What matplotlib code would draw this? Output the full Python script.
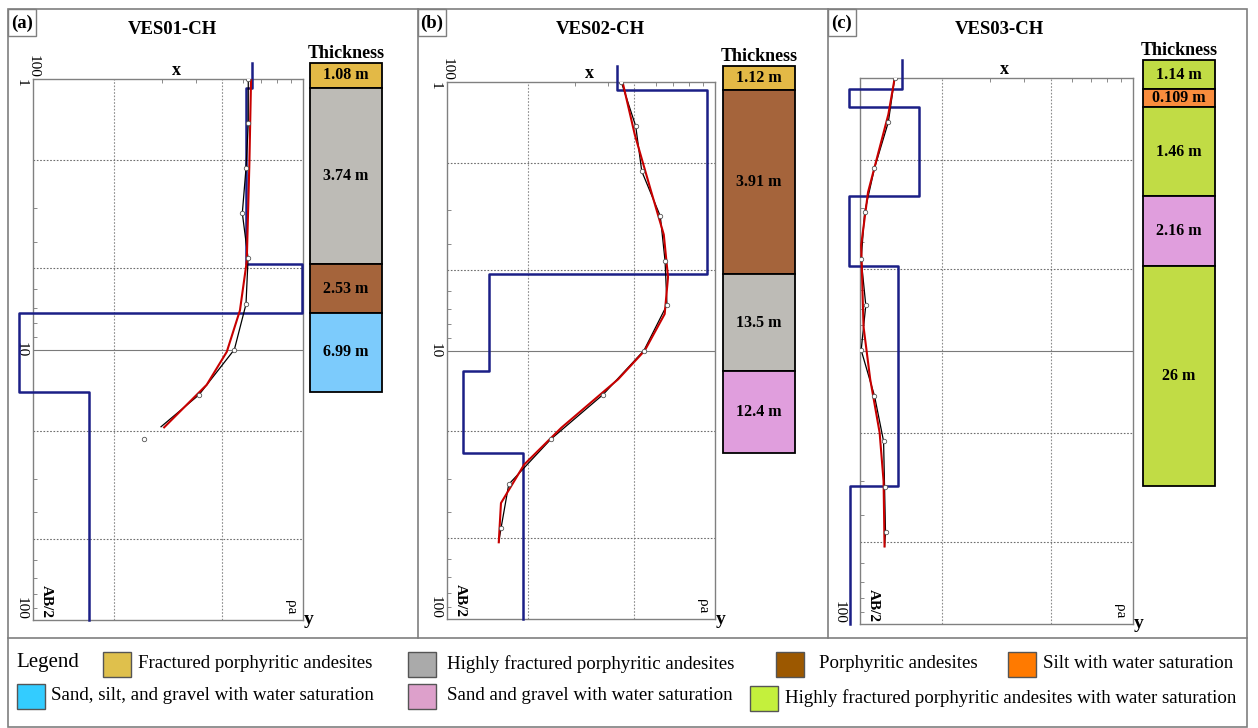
import numpy as np
import matplotlib.pyplot as plt
from matplotlib.patches import Rectangle
from matplotlib.ticker import NullFormatter
import matplotlib.transforms as mtrans

plt.rcParams['font.family'] = ['Liberation Serif', 'DejaVu Serif']

W, H = 1258, 728

# ---------------- data ----------------
titles = ['VES01-CH', 'VES02-CH', 'VES03-CH']
tags = ['(a)', '(b)', '(c)']

# field points (AB/2 in m, apparent resistivity in ohm.m)
pts_ab2_a = [1.0, 1.46, 2.14, 3.13, 4.6, 6.8, 10.0, 14.7, 21.5]
pts_rho_a = [627, 627, 615, 596, 626, 615, 557, 412, 257]
pts_ab2_b = [1.0, 1.46, 2.15, 3.16, 4.63, 6.76, 10.0, 14.6, 21.4, 31.5, 46]
pts_rho_b = [447, 506, 533, 625, 651, 662, 543, 382, 244, 170, 159]
pts_ab2_c = [1.0, 1.45, 2.14, 3.1, 4.61, 6.8, 9.93, 14.6, 21.4, 31.4, 46.2]
pts_rho_c = [134, 127, 113, 104, 101, 105, 101, 113, 122, 123, 124]

# observed curve (black)
obs_ab2_a = [1.0, 1.46, 2.14, 3.13, 4.6, 6.8, 10.0, 14.7, 19.3]
obs_rho_a = [627, 627, 615, 596, 626, 615, 557, 412, 298]
obs_ab2_b = [1.0, 1.46, 2.15, 3.16, 4.63, 6.76, 10.0, 14.6, 21.4, 31.5, 46, 51.7]
obs_rho_b = [447, 506, 533, 625, 651, 662, 543, 382, 244, 170, 159, 156]
obs_ab2_c = [1.0, 1.45, 2.14, 3.1, 4.61, 6.8, 9.93, 14.6, 21.4, 31.4, 46.2, 52]
obs_rho_c = [134, 127, 113, 104, 101, 105, 101, 113, 122, 123, 124, 123]

# calculated curve (red)
calc_ab2_a = [1.01, 2.05, 4.72, 7.17, 10.2, 13.5, 19.4]
calc_rho_a = [642, 633, 619, 584, 522, 440, 306]
calc_ab2_b = [1.01, 1.57, 2.56, 3.70, 5.33, 7.31, 10.0, 12.8, 19.4, 26.6, 37, 51.8]
calc_rho_b = [453, 502, 578, 644, 668, 649, 547, 435, 267, 194, 159, 156]
calc_ab2_c = [1.0, 1.36, 2.62, 4.09, 8.13, 12.7, 19.9, 30, 52]
calc_rho_c = [134, 127, 107, 101, 103, 109, 118, 122, 123]

# layered model (blue): layer boundaries (m) and layer resistivity
model_depth_a = [0.87, 1.08, 4.82, 7.35, 14.3, 100]
model_rho_a = [647, 615, 991, 89, 161]
model_depth_b = [0.87, 1.07, 5.17, 11.97, 24.1, 100]
model_rho_b = [430, 934, 144, 115, 192]
model_depth_c = [0.86, 1.10, 1.28, 2.71, 4.89, 31.1, 100]
model_rho_c = [143, 91, 165, 91, 138, 92]

# thickness columns
thick_a = ['1.08 m', '3.74 m', '2.53 m', '6.99 m']
thick_b = ['1.12 m', '3.91 m', '13.5 m', '12.4 m']
thick_c = ['1.14 m', '0.109 m', '1.46 m', '2.16 m', '26 m']
layer_col_a = ['#e3b946', '#bdbbb6', '#a5643b', '#7ccbfc']
layer_col_b = ['#e3b946', '#a5643b', '#bdbbb6', '#e09edd']
layer_col_c = ['#c1dc45', '#f98c3d', '#c1dc45', '#e09edd', '#c1dc45']

depth_labels_a = ['1', '10', '100']
depth_labels_b = ['1', '10', '100']
depth_labels_c = ['100']

legend_labels = ['Fractured porphyritic andesites', 'Highly fractured porphyritic andesites',
                 'Porphyritic andesites', 'Silt with water saturation',
                 'Sand, silt, and gravel with water saturation',
                 'Sand and gravel with water saturation',
                 'Highly fractured porphyritic andesites with water saturation']
legend_colors = ['#dfc04c', '#aaaaaa', '#9c5800', '#ff7a00', '#33ccff', '#dda0cb', '#c4f03c']

grid_rho = [200, 500]
grid_ab2 = [2, 5, 20, 50]
minor_rho = [300, 400, 600, 700, 800, 900]
minor_ab2 = [3, 4, 6, 7, 8, 9, 30, 40, 60, 70, 80, 90]

# ---------------- layout (pixels) ----------------
boxes = [(33, 79, 303, 620), (447, 82, 715, 619), (860, 78, 1133, 624)]
cols_px = [(310, 382), (723, 795), (1143, 1215)]
title_x = [172, 600, 999]
tag_box = [(8, 418), (418, 828), (828, 1247)]
tick_pad = [3.5, 3.5, 10]

panels = [
    (pts_ab2_a, pts_rho_a, obs_ab2_a, obs_rho_a, calc_ab2_a, calc_rho_a,
     model_depth_a, model_rho_a, thick_a, layer_col_a, depth_labels_a, True),
    (pts_ab2_b, pts_rho_b, obs_ab2_b, obs_rho_b, calc_ab2_b, calc_rho_b,
     model_depth_b, model_rho_b, thick_b, layer_col_b, depth_labels_b, True),
    (pts_ab2_c, pts_rho_c, obs_ab2_c, obs_rho_c, calc_ab2_c, calc_rho_c,
     model_depth_c, model_rho_c, thick_c, layer_col_c, depth_labels_c, False),
]

fig = plt.figure(figsize=(W / 100, H / 100), dpi=100)

# background axes in pixel units for frames, titles and legend
bg = fig.add_axes([0, 0, 1, 1], zorder=-5)
bg.set_xlim(0, W)
bg.set_ylim(H, 0)
bg.axis('off')

frame_c = '#7f7f7f'
bg.add_patch(Rectangle((8, 9), 1239, 718, fill=False, ec=frame_c, lw=1.2))
bg.plot([8, 1247], [638, 638], color=frame_c, lw=1.2)
for x0, x1 in tag_box[1:]:
    bg.plot([x0, x0], [9, 638], color=frame_c, lw=1.2)
for k, (x0, x1) in enumerate(tag_box):
    bg.add_patch(Rectangle((x0, 9), 28, 27, fill=False, ec=frame_c, lw=1.0))
    bg.text(x0 + 14, 23, tags[k], ha='center', va='center', fontsize=13.5, fontweight='bold')
    bg.text(title_x[k], 29, titles[k], ha='center', va='center', fontsize=13.5, fontweight='bold')


def px_axes(l, t, r, b):
    return [l / W, 1 - b / H, (r - l) / W, (b - t) / H]


for k, p in enumerate(panels):
    (pa, pr, oa, orr, ca, cr, md, mr, thick, lcol, dlab, top100) = p
    l, t, r, b = boxes[k]
    ax = fig.add_axes(px_axes(l, t, r, b))
    ax.set_xscale('log')
    ax.set_yscale('log')
    ax.set_xlim(100, 1000)
    ax.set_ylim(100, 1)

    for v in grid_rho:
        ax.axvline(v, color='#8c8c8c', lw=0.8, ls=(0, (1.5, 1.5)), zorder=1)
    for v in grid_ab2:
        ax.axhline(v, color='#6e6e6e', lw=0.8, ls=(0, (1.5, 1.5)), zorder=1)
    ax.axhline(10, color='#7a7a7a', lw=0.8, zorder=1)

    # layered model as step line
    mx = np.repeat(mr, 2)
    my = np.repeat(md, 2)[1:-1]
    ax.plot(mx, my, color='#1b1f86', lw=1.8, clip_on=False, zorder=3)
    ax.plot(orr, oa, color='black', lw=0.9, zorder=4)
    ax.plot(cr, ca, color='#c80000', lw=1.5, zorder=5)
    ax.plot(pr, pa, ls='none', marker='o', ms=3.2, mfc='white', mec='#555555', mew=0.6, zorder=6)

    for s in ax.spines.values():
        s.set_color('#808080')
        s.set_linewidth(1.0)

    # ticks
    ax.xaxis.tick_top()
    if top100:
        ax.set_xticks([100], labels=['100'])
    else:
        ax.set_xticks([])
    ax.set_xticks(minor_rho, minor=True)
    ax.xaxis.set_minor_formatter(NullFormatter())
    ax.set_yticks([float(s) for s in dlab], labels=dlab)
    ax.set_yticks(minor_ab2, minor=True)
    ax.yaxis.set_minor_formatter(NullFormatter())
    ax.tick_params(axis='x', which='major', length=0, pad=1, labelsize=11, labelrotation=-90)
    ax.tick_params(axis='y', which='major', length=0, pad=tick_pad[k], labelsize=11, labelrotation=-90)
    ax.tick_params(which='minor', direction='in', length=3, width=0.6, color='#777777',
                   top=True, left=True, bottom=False, right=False)
    for lab in ax.get_yticklabels():
        txt = lab.get_text()
        lab.set_va({'1': 'top', '10': 'center', '100': 'bottom'}[txt])

    ax.text(0.53, 1.0, 'x', transform=ax.transAxes, ha='center', va='bottom',
            fontsize=13, fontweight='bold')
    ax.text(1.022, 0.0, 'y', transform=ax.transAxes, ha='center', va='center',
            fontsize=14, fontweight='bold')
    ax.text(0.952, 0.01, 'ρa', transform=ax.transAxes, ha='center', va='bottom',
            rotation=-90, fontsize=11)
    ax.text(0.05, 0.004, 'AB/2', transform=ax.transAxes, ha='center', va='bottom',
            rotation=-90, fontsize=11, fontweight='bold')

    # thickness column (x in axes fraction, y on the depth scale)
    blend = mtrans.blended_transform_factory(ax.transAxes, ax.transData)
    c0 = (cols_px[k][0] - l) / (r - l)
    c1 = (cols_px[k][1] - l) / (r - l)
    for i, lab in enumerate(thick):
        d0, d1 = md[i], md[i + 1]
        ax.add_patch(Rectangle((c0, d0), c1 - c0, d1 - d0, transform=blend,
                               fc=lcol[i], ec='black', lw=1.3, clip_on=False, zorder=2))
        ax.text((c0 + c1) / 2, np.sqrt(d0 * d1), lab, transform=blend, ha='center',
                va='center', fontsize=11.5, fontweight='bold', clip_on=False)
    ax.annotate('Thickness', ((c0 + c1) / 2, md[0]), xycoords=blend, xytext=(0, 0.5),
                textcoords='offset points', ha='center', va='bottom', fontsize=13,
                fontweight='bold', annotation_clip=False)

# ---------------- legend ----------------
bg.text(16, 663, 'Legend', ha='left', va='center', fontsize=15)
sw_pos = [(103, 652), (408, 652), (776, 652), (1008, 652), (17, 684), (408, 684), (750, 686)]
tx_pos = [(138, 664), (447, 664), (819, 664), (1043, 664), (51, 696), (447, 696), (785, 698)]
for i, lab in enumerate(legend_labels):
    sx, sy = sw_pos[i]
    bg.add_patch(Rectangle((sx, sy), 28, 25, fc=legend_colors[i], ec='#555555', lw=1.0))
    bg.text(tx_pos[i][0], tx_pos[i][1], lab, ha='left', va='center', fontsize=13.6)

fig.savefig('out.png', dpi=100)
